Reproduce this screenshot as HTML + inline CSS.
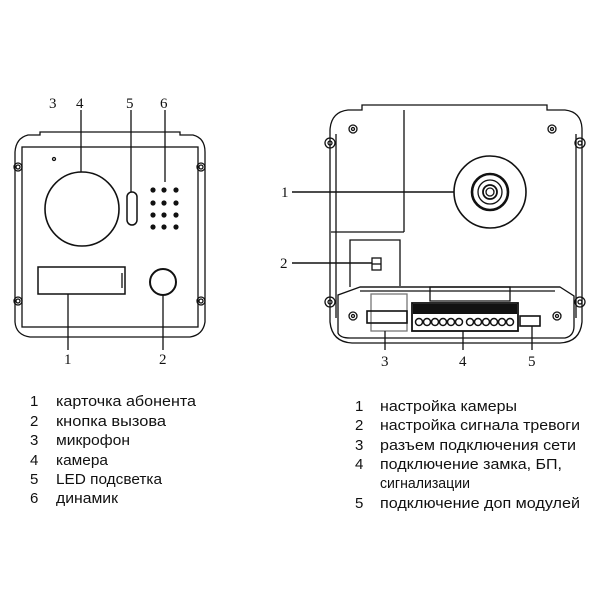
<!DOCTYPE html>
<html><head><meta charset="utf-8"><style>
html,body{margin:0;padding:0;background:#fff;}
svg{display:block;}
.t{font-family:"Liberation Sans",sans-serif;font-size:15px;fill:#111;}
.n{font-family:"Liberation Serif",serif;font-size:15px;fill:#111;}
</style></head><body>
<svg width="600" height="600" viewBox="0 0 600 600" xmlns="http://www.w3.org/2000/svg">
<g fill="none" stroke="#111" stroke-width="1.3">
<!-- LEFT PANEL -->
<path d="M40 135 L40 132 L180 132 L180 135 L193 135 Q205 138 205 152 L205 322 Q203 335 190 337 L30 337 Q16 335 15 322 L15 152 Q16 138 28 135 Z"/>
<rect x="22" y="147" width="176" height="180"/>
<circle cx="18" cy="167" r="4"/><circle cx="18" cy="167" r="2"/>
<circle cx="201" cy="167" r="4"/><circle cx="201" cy="167" r="2"/>
<circle cx="18" cy="301" r="4"/><circle cx="18" cy="301" r="2"/>
<circle cx="201" cy="301" r="4"/><circle cx="201" cy="301" r="2"/>
<circle cx="54" cy="159" r="1.5"/>
<circle cx="82" cy="209" r="37" stroke-width="1.6"/>
<rect x="127" y="192" width="10" height="33" rx="5" stroke-width="1.5"/>
<rect x="38" y="267" width="87" height="27" stroke-width="1.5"/>
<line x1="122" y1="273" x2="122" y2="288"/>
<circle cx="163" cy="282" r="13" stroke-width="2"/>
<line x1="68" y1="294" x2="68" y2="350"/>
<line x1="163" y1="295" x2="163" y2="350"/>
<line x1="81" y1="110" x2="81" y2="172"/>
<line x1="131" y1="110" x2="131" y2="192"/>
<line x1="165" y1="110" x2="165" y2="182"/>
</g>
<g fill="#111">
<circle cx="153" cy="190" r="2.6"/><circle cx="164" cy="190" r="2.6"/><circle cx="176" cy="190" r="2.6"/>
<circle cx="153" cy="203" r="2.6"/><circle cx="164" cy="203" r="2.6"/><circle cx="176" cy="203" r="2.6"/>
<circle cx="153" cy="215" r="2.6"/><circle cx="164" cy="215" r="2.6"/><circle cx="176" cy="215" r="2.6"/>
<circle cx="153" cy="227" r="2.6"/><circle cx="164" cy="227" r="2.6"/><circle cx="176" cy="227" r="2.6"/>
</g>
<text class="n" x="49" y="108">3</text><text class="n" x="76" y="108">4</text>
<text class="n" x="126" y="108">5</text><text class="n" x="160" y="108">6</text>
<text class="n" x="64" y="364">1</text><text class="n" x="159" y="364">2</text>

<!-- RIGHT PANEL -->
<g fill="none" stroke="#111" stroke-width="1.3">
<path d="M362 105 L547 105 L547 110 L565 110 Q582 112 582 130 L582 322 Q580 342 560 343 L352 343 Q332 342 330 322 L330 130 Q331 112 348 110 L362 110 Z"/>
<path d="M336 134 L336 318 M576 134 L576 318"/>
<line x1="404" y1="110" x2="404" y2="232"/>
<line x1="331" y1="232" x2="404" y2="232"/>
<path d="M350 287 L350 240 L400 240 L400 286"/>
<path d="M360 287 L338 295 L338 333 Q340 338 350 338 L565 338 Q574 336 574 326 L574 296 L560 287 Z"/>
<line x1="360" y1="287" x2="560" y2="287"/>
<line x1="360" y1="291" x2="555" y2="291"/>
<rect x="430" y="287" width="80" height="14"/>
<circle cx="353" cy="129" r="4"/><circle cx="353" cy="129" r="1.5"/>
<circle cx="552" cy="129" r="4"/><circle cx="552" cy="129" r="1.5"/>
<circle cx="330" cy="143" r="5"/><circle cx="330" cy="143" r="2"/>
<circle cx="580" cy="143" r="5"/><circle cx="580" cy="143" r="2"/>
<circle cx="330" cy="302" r="5"/><circle cx="330" cy="302" r="2"/>
<circle cx="580" cy="302" r="5"/><circle cx="580" cy="302" r="2"/>
<circle cx="353" cy="316" r="4"/><circle cx="353" cy="316" r="1.5"/>
<circle cx="557" cy="316" r="4"/><circle cx="557" cy="316" r="1.5"/>
<circle cx="490" cy="192" r="36" stroke-width="1.6"/>
<circle cx="490" cy="192" r="18" stroke-width="2.6"/>
<circle cx="490" cy="192" r="12"/>
<circle cx="490" cy="192" r="7" stroke-width="1.8"/>
<circle cx="490" cy="192" r="4"/>
<rect x="372" y="258" width="9" height="12"/>
<line x1="372" y1="264" x2="381" y2="264"/>
<line x1="292" y1="192" x2="454" y2="192" stroke-width="1.6"/>
<line x1="292" y1="263" x2="372" y2="263" stroke-width="1.6"/>
<rect x="371" y="294" width="36" height="37" stroke="#777"/>
<rect x="367" y="311" width="40" height="12" stroke-width="1.6"/>
<rect x="412" y="303" width="106" height="28" stroke-width="1.8"/>
<rect x="520" y="316" width="20" height="10" stroke-width="1.6"/>
<line x1="385" y1="331" x2="385" y2="350"/>
<line x1="463" y1="331" x2="463" y2="350"/>
<line x1="532" y1="326" x2="532" y2="350"/>
</g>
<g fill="#111">
<rect x="413" y="304" width="104" height="10"/>
<g fill="none" stroke="#111" stroke-width="1.5">
<circle cx="419" cy="322" r="3.5"/><circle cx="427" cy="322" r="3.5"/><circle cx="435" cy="322" r="3.5"/><circle cx="443" cy="322" r="3.5"/><circle cx="451" cy="322" r="3.5"/><circle cx="459" cy="322" r="3.5"/>
<circle cx="470" cy="322" r="3.5"/><circle cx="478" cy="322" r="3.5"/><circle cx="486" cy="322" r="3.5"/><circle cx="494" cy="322" r="3.5"/><circle cx="502" cy="322" r="3.5"/><circle cx="510" cy="322" r="3.5"/>
</g>
</g>
<text class="n" x="281" y="197">1</text><text class="n" x="280" y="268">2</text>
<text class="n" x="381" y="366">3</text><text class="n" x="459" y="366">4</text><text class="n" x="528" y="366">5</text>

<!-- LEGENDS -->
<g class="t" textLength="0">
<text x="30" y="406">1</text><text x="56" y="406" textLength="140" lengthAdjust="spacingAndGlyphs">карточка абонента</text>
<text x="30" y="426">2</text><text x="56" y="426" textLength="110" lengthAdjust="spacingAndGlyphs">кнопка вызова</text>
<text x="30" y="445">3</text><text x="56" y="445" textLength="74" lengthAdjust="spacingAndGlyphs">микрофон</text>
<text x="30" y="465">4</text><text x="56" y="465" textLength="52" lengthAdjust="spacingAndGlyphs">камера</text>
<text x="30" y="484">5</text><text x="56" y="484" textLength="106" lengthAdjust="spacingAndGlyphs">LED подсветка</text>
<text x="30" y="503">6</text><text x="56" y="503" textLength="62" lengthAdjust="spacingAndGlyphs">динамик</text>

<text x="355" y="411">1</text><text x="380" y="411" textLength="137" lengthAdjust="spacingAndGlyphs">настройка камеры</text>
<text x="355" y="430">2</text><text x="380" y="430" textLength="200" lengthAdjust="spacingAndGlyphs">настройка сигнала тревоги</text>
<text x="355" y="450">3</text><text x="380" y="450" textLength="196" lengthAdjust="spacingAndGlyphs">разъем подключения сети</text>
<text x="355" y="469">4</text><text x="380" y="469" textLength="182" lengthAdjust="spacingAndGlyphs">подключение замка, БП,</text>
<text x="380" y="488" textLength="90" lengthAdjust="spacingAndGlyphs">сигнализации</text>
<text x="355" y="508">5</text><text x="380" y="508" textLength="200" lengthAdjust="spacingAndGlyphs">подключение доп модулей</text>
</g>
</svg>
</body></html>
